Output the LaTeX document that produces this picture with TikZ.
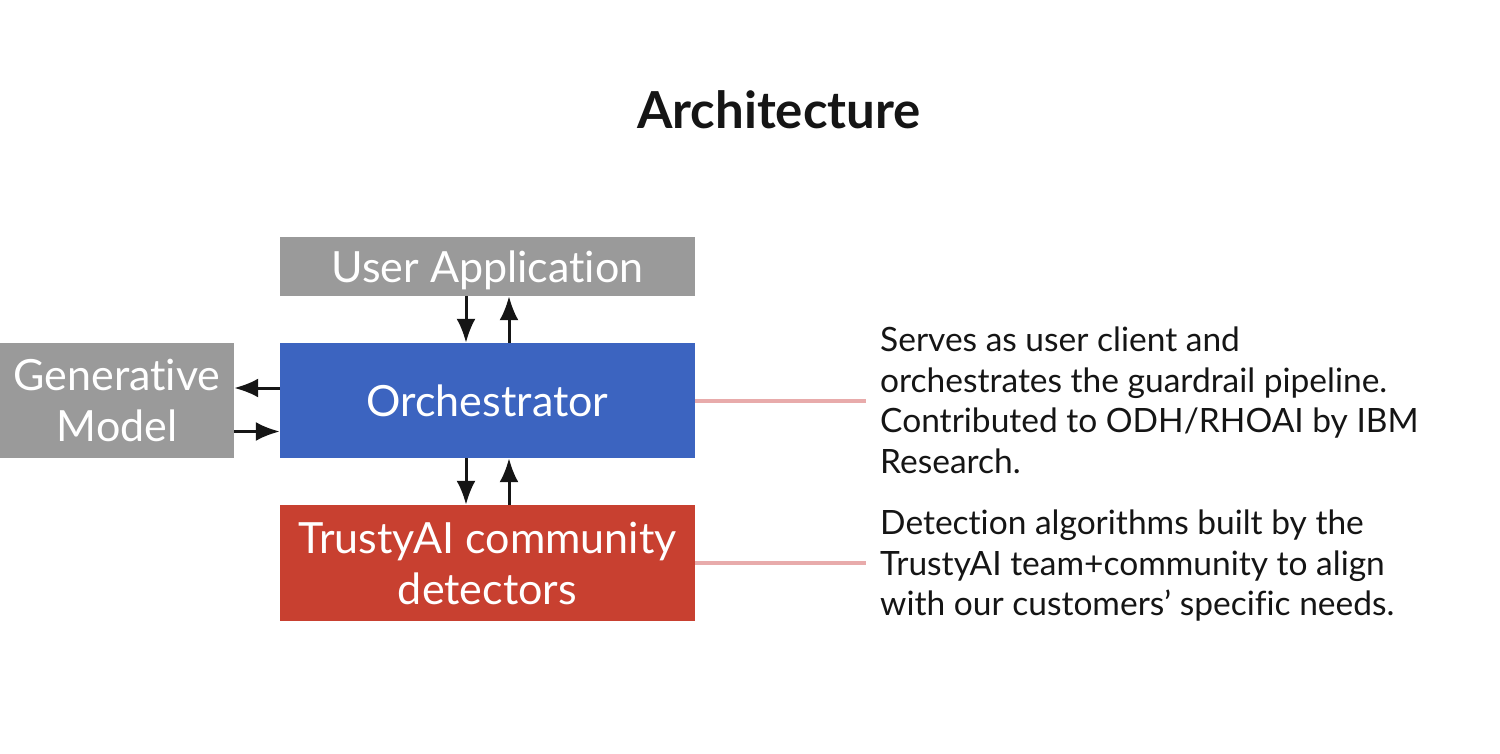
\documentclass[tikz,border=0pt]{standalone}
\usepackage{fontspec}
\setmainfont{Lato}[Ligatures={NoCommon}]
\usetikzlibrary{arrows.meta}
\definecolor{boxgray}{HTML}{9A9A9A}
\definecolor{orchblue}{HTML}{3C64C0}
\definecolor{detred}{HTML}{C84030}
\definecolor{linkpink}{HTML}{E8ABAB}
\definecolor{ink}{HTML}{151515}

\begin{document}
\begin{tikzpicture}[x=1pt, y=-1pt,
        block/.style={rectangle, inner sep=0pt, text=white, align=center,
            font=\fontsize{43}{51}\selectfont},
        flow/.style={draw=ink, line width=3pt, -{Latex[length=24pt, width=19pt]}},
        link/.style={draw=linkpink, line width=4pt},
        note/.style={anchor=north west, inner sep=0pt, align=left, text=ink,
            font=\fontsize{33.5}{40.5}\selectfont}]
        \useasboundingbox (0,0) rectangle (1500,754);

        \node[text=ink, font=\fontsize{51}{55}\selectfont\bfseries] (title) at (779, 110) {Architecture};

        \node[block, fill=boxgray, minimum width=415pt, minimum height=59pt, text height=33pt, text depth=0pt] (user) at (487.5, 266.5) {User Application};
        \node[block, fill=orchblue, minimum width=415pt, minimum height=115pt] (orch) at (487.5, 400.5) {Orchestrator};
        \node[block, fill=detred, minimum width=415pt, minimum height=116pt] (det) at (487.5, 563) {TrustyAI community\\detectors};
        \node[block, fill=boxgray, minimum width=234pt, minimum height=115pt] (gen) at (117, 400.5) {Generative\\Model};

        \draw[flow] ([xshift=-21.5pt]user.south) -- ([xshift=-21.5pt]orch.north);
        \draw[flow] ([xshift=21.5pt]orch.north) -- ([xshift=21.5pt]user.south);
        \draw[flow] ([xshift=-21.5pt]orch.south) -- ([xshift=-21.5pt]det.north);
        \draw[flow] ([xshift=21.5pt]det.north) -- ([xshift=21.5pt]orch.south);
        \draw[flow] ([yshift=12.5pt]orch.west) -- ([yshift=12.5pt]gen.east);
        \draw[flow] ([yshift=-31pt]gen.east) -- ([yshift=-31pt]orch.west);

        \coordinate (orchend) at (866, 400.5);
        \coordinate (detend) at (866, 563);
        \draw[link] (orch.east) -- (orchend);
        \draw[link] (det.east) -- (detend);

        \node[note] (orchnote) at (880, 327) {Serves as user client and\\orchestrates the guardrail pipeline.\\Contributed to ODH/RHOAI by IBM\\Research.};
        \node[note] (detnote) at (880, 510) {Detection algorithms built by the\\TrustyAI team+community to align\\with our customers’ specific needs.};
    \end{tikzpicture}
\end{document}
